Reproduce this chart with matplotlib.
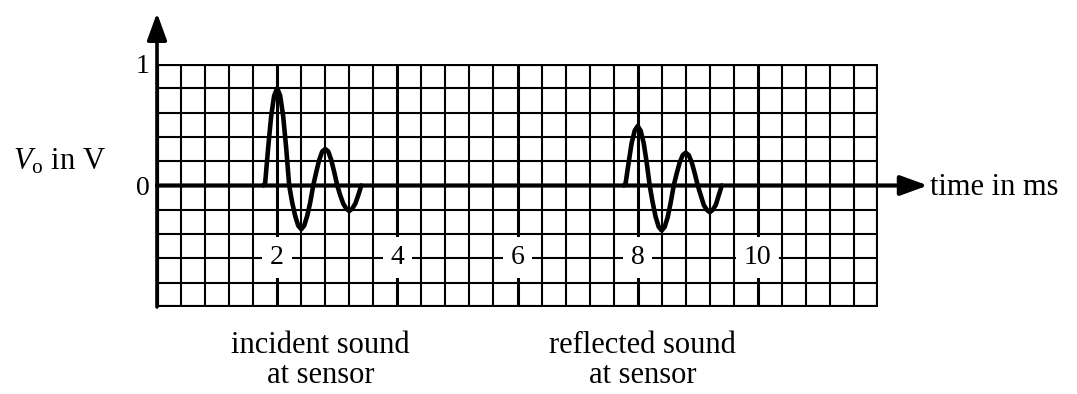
import numpy as np
import matplotlib
matplotlib.use("Agg")
import matplotlib.pyplot as plt

plt.rcParams['font.family'] = ['Liberation Serif', 'DejaVu Serif']
plt.rcParams['mathtext.fontset'] = 'custom'
plt.rcParams['mathtext.rm'] = 'Liberation Serif'
plt.rcParams['mathtext.it'] = 'Liberation Serif:italic'

# Pulses (time in ms, V_o in V)
incident_t = [1.77, 1.80, 1.85, 1.90, 1.95, 2.00, 2.05, 2.10, 2.15, 2.20,
              2.25, 2.30, 2.35, 2.40, 2.45, 2.50, 2.55, 2.60,
              2.65, 2.70, 2.75, 2.80, 2.85, 2.90, 2.95, 3.00,
              3.05, 3.10, 3.15, 3.20, 3.25, 3.30, 3.35, 3.40]
incident_v = [0.00, 0.02, 0.31, 0.57, 0.74, 0.80, 0.74, 0.57, 0.31, 0.00,
              -0.14, -0.25, -0.33, -0.36, -0.33, -0.25, -0.14, 0.00,
              0.11, 0.21, 0.28, 0.30, 0.28, 0.21, 0.11, 0.00,
              -0.08, -0.15, -0.19, -0.21, -0.19, -0.15, -0.08, 0.00]

reflected_t = [7.77, 7.80, 7.85, 7.90, 7.95, 8.00, 8.05, 8.10, 8.15, 8.20,
               8.25, 8.30, 8.35, 8.40, 8.45, 8.50, 8.55, 8.60,
               8.65, 8.70, 8.75, 8.80, 8.85, 8.90, 8.95, 9.00,
               9.05, 9.10, 9.15, 9.20, 9.25, 9.30, 9.35, 9.40]
reflected_v = [0.00, 0.02, 0.19, 0.35, 0.45, 0.49, 0.45, 0.35, 0.19, 0.00,
               -0.14, -0.26, -0.34, -0.37, -0.34, -0.26, -0.14, 0.00,
               0.10, 0.19, 0.25, 0.27, 0.25, 0.19, 0.10, 0.00,
               -0.08, -0.16, -0.20, -0.22, -0.20, -0.16, -0.08, 0.00]

time_labels = [2, 4, 6, 8, 10]
volt_labels = [0, 1]
captions = ["incident sound\nat sensor", "reflected sound\nat sensor"]
caption_x = [2.72, 8.08]

fig = plt.figure(figsize=(10.77, 3.94), dpi=100)
ax = fig.add_axes([157 / 1077, 1 - 307 / 394, 721 / 1077, 243 / 394])
ax.set_xlim(0, 12)
ax.set_ylim(-1, 1)
ax.axis("off")

# graph paper: 0.4 ms x 0.2 V squares, heavier line every 2 ms
for k in range(31):
    x = 0.4 * k
    if k in (0, 30):
        lw = 3.0
    elif k % 5 == 0:
        lw = 2.2
    else:
        lw = 1.5
    ax.axvline(x, color="k", lw=lw, zorder=1)
for k in range(11):
    y = -1 + 0.2 * k
    lw = 3.0 if k in (0, 10) else 1.5
    ax.axhline(y, color="k", lw=lw, zorder=1)

# axes with arrows
ax.annotate("", xy=(0, 1.42), xytext=(0, -1.0),
            arrowprops=dict(arrowstyle="-|>,head_length=0.55,head_width=0.2",
                            mutation_scale=30, lw=2.6, color="k",
                            shrinkA=0, shrinkB=0),
            annotation_clip=False, zorder=4)
ax.annotate("", xy=(12.83, 0), xytext=(0, 0),
            arrowprops=dict(arrowstyle="-|>,head_length=0.55,head_width=0.2",
                            mutation_scale=30, lw=3.0, color="k",
                            shrinkA=0, shrinkB=0),
            annotation_clip=False, zorder=4)

# traces
for t, v in [(incident_t, incident_v), (reflected_t, reflected_v)]:
    ax.plot(t, v, color="k", lw=3.3, solid_joinstyle="round",
            solid_capstyle="round", zorder=5)

# time labels sit on the paper with a white patch
for lab in time_labels:
    ax.text(lab, -0.645, str(lab), ha="center", va="baseline", fontsize=20,
            zorder=3,
            bbox=dict(boxstyle="square,pad=0.28", fc="white", ec="none"))

ax.text(-0.12, 0.926, str(volt_labels[1]), ha="right", va="baseline",
        fontsize=20, clip_on=False)
ax.text(-0.12, -0.078, str(volt_labels[0]), ha="right", va="baseline",
        fontsize=20, clip_on=False)

ax.text(-2.40, 0.128, r"$V_\mathrm{o}$ in V", ha="left", va="baseline",
        fontsize=22, clip_on=False)
ax.text(12.87, -0.08, "time in ms", ha="left", va="baseline",
        fontsize=22, clip_on=False)

for cx, cap in zip(caption_x, captions):
    top, bottom = cap.split("\n")
    ax.text(cx, -1.379, top, ha="center", va="baseline", fontsize=22,
            clip_on=False)
    ax.text(cx, -1.626, bottom, ha="center", va="baseline", fontsize=22,
            clip_on=False)

fig.savefig("out.png", dpi=100, facecolor="white")
